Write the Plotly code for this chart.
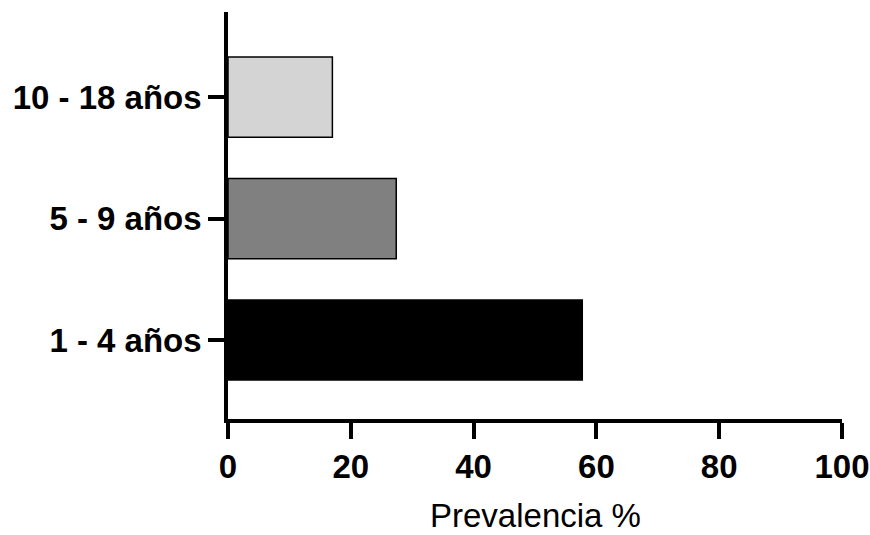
import plotly.graph_objects as go

categories = ["1 - 4 años", "5 - 9 años", "10 - 18 años"]
values = [57.7, 27.4, 17.0]
colors = ["#000000", "#808080", "#d4d4d4"]
x_ticks = [0, 20, 40, 60, 80, 100]
x_title = "Prevalencia %"

fig = go.Figure()
fig.add_trace(go.Bar(
    y=categories, x=values, orientation="h",
    marker=dict(color=colors, line=dict(color="#000000", width=1.5)),
))

font_b = dict(family="Liberation Sans, Arial", size=33, color="#000000", weight="bold")

fig.update_layout(
    width=870, height=535,
    margin=dict(l=228, r=28, t=12, b=116),
    paper_bgcolor="white", plot_bgcolor="white",
    bargap=0.34,
    showlegend=False,
    xaxis=dict(
        range=[0, 100], tickvals=x_ticks, ticktext=[str(v) for v in x_ticks],
        showgrid=False, zeroline=False, automargin=False,
        showline=True, linecolor="#000000", linewidth=3.5,
        ticks="outside", ticklen=16, tickwidth=3.5, tickcolor="#000000",
        tickfont=font_b, ticklabelstandoff=0,
    ),
    yaxis=dict(
        type="category", categoryorder="array", categoryarray=categories,
        range=[-0.65, 2.7], automargin=False,
        showgrid=False, zeroline=False,
        showline=True, linecolor="#000000", linewidth=3.5,
        ticks="outside", ticklen=16, tickwidth=3.5, tickcolor="#000000",
        tickfont=font_b,
    ),
    annotations=[dict(
        text=x_title, xref="paper", yref="paper", x=0.5, y=0,
        xanchor="center", yanchor="middle", yshift=-96, showarrow=False,
        borderpad=0,
        font=dict(family="Liberation Sans, Arial", size=33, color="#000000"),
    )],
)

fig.write_html(
    "out.html",
    config={"displayModeBar": False},
    post_script="document.body.style.margin='0';document.body.style.overflow='hidden';",
)
